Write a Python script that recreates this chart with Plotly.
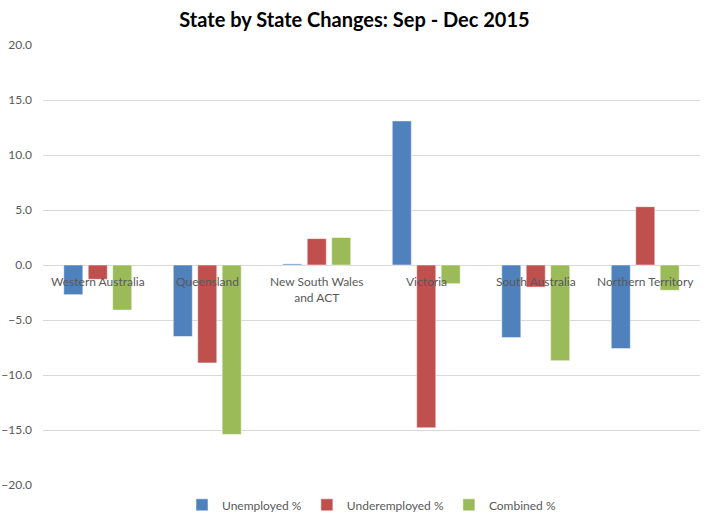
import plotly.graph_objects as go

states = ["Western Australia", "Queensland", "New South Wales<br>and ACT", "Victoria", "South Australia", "Northern Territory"]
unemployed = [-2.7, -6.5, 0.1, 13.1, -6.6, -7.6]
underemployed = [-1.3, -8.9, 2.4, -14.8, -2.0, 5.3]
combined = [-4.1, -15.4, 2.5, -1.7, -8.7, -2.3]
series_names = ["Unemployed %", "Underemployed %", "Combined %"]
colors = ["#4F81BD", "#C0504D", "#9BBB59"]
yticks = [-20, -15, -10, -5, 0, 5, 10, 15, 20]

FONT = "Lato, Liberation Sans, Arial"

fig = go.Figure()
for name, vals, c in zip(series_names, [unemployed, underemployed, combined], colors):
    fig.add_trace(go.Bar(x=states, y=vals, name=name,
                         marker=dict(color=c, line=dict(color="rgba(255,255,255,0.5)", width=1))))

annotations = []
for s in states:
    annotations.append(dict(x=s, y=0, xref="x", yref="y", text=s, showarrow=False,
                            yanchor="top", yshift=-7,
                            font=dict(size=12, color="#595959", family=FONT)))

fig.update_layout(
    width=709, height=521,
    margin=dict(l=43, r=9, t=45, b=36),
    paper_bgcolor="white", plot_bgcolor="white",
    title=dict(text="<b>State by State Changes: Sep - Dec 2015</b>", x=0.5, xanchor="center",
               y=0.962, yanchor="middle",
               font=dict(size=20, color="black", family=FONT)),
    barmode="group", bargap=0.33, bargroupgap=0.22,
    showlegend=True,
    legend=dict(orientation="h", x=0.5, xanchor="center", y=0.031, yanchor="middle", yref="container",
                font=dict(size=12, color="#595959", family=FONT), itemwidth=30),
    xaxis=dict(showticklabels=False, showgrid=False, zeroline=False, showline=False, automargin=False),
    yaxis=dict(range=[-20, 20], tickvals=yticks, tickformat=".1f", showgrid=True, gridcolor="#D9D9D9",
               zeroline=True, zerolinecolor="#D9D9D9", zerolinewidth=1, automargin=False,
               tickfont=dict(size=12, color="#595959", family=FONT), ticks="", ticklabelstandoff=10),
    annotations=annotations,
)
fig.write_html("out.html")
